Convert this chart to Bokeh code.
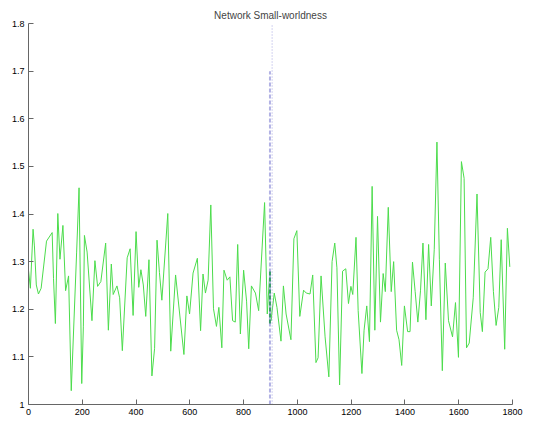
from bokeh.plotting import figure
from bokeh.models import FixedTicker, Range1d, Title
from bokeh.embed import file_html
from bokeh.resources import INLINE

x_vals = [0, 7, 17, 22, 29, 37, 47, 67, 88, 93, 100, 109, 117, 128, 138, 149, 159, 179, 188, 198,
          204, 208, 218, 236, 247, 257, 269, 287, 297, 308, 315, 329, 339, 349, 367, 378, 389, 400,
          410, 418, 427, 436, 448, 459, 469, 478, 487, 496, 518, 529, 547, 578, 589, 599, 612, 628,
          640, 649, 658, 668, 678, 688, 699, 708, 719, 727, 739, 749, 759, 769, 778, 788, 800, 811,
          819, 829, 844, 856, 878, 888, 897, 902, 914, 924, 939, 948, 958, 976, 987, 998, 1009,
          1023, 1033, 1047, 1057, 1069, 1077, 1088, 1103, 1117, 1129, 1139, 1147, 1157, 1168, 1180,
          1190, 1199, 1206, 1218, 1226, 1240, 1248, 1258, 1268, 1278, 1288, 1298, 1309, 1319, 1327,
          1338, 1349, 1358, 1369, 1378, 1388, 1398, 1410, 1419, 1428, 1438, 1448, 1458, 1467, 1478,
          1488, 1498, 1509, 1519, 1528, 1539, 1550, 1562, 1577, 1588, 1599, 1610, 1620, 1629, 1639,
          1654, 1668, 1680, 1688, 1698, 1709, 1719, 1729, 1739, 1749, 1758, 1771, 1781, 1790]
y_vals = [1.282, 1.244, 1.368, 1.333, 1.251, 1.232, 1.244, 1.343, 1.361, 1.265, 1.170, 1.401, 1.305,
          1.376, 1.239, 1.270, 1.029, 1.320, 1.455, 1.044, 1.163, 1.355, 1.320, 1.176, 1.302, 1.248,
          1.258, 1.339, 1.156, 1.295, 1.231, 1.249, 1.224, 1.113, 1.308, 1.327, 1.187, 1.363, 1.246,
          1.283, 1.251, 1.185, 1.304, 1.060, 1.118, 1.345, 1.277, 1.219, 1.401, 1.112, 1.272, 1.105,
          1.228, 1.190, 1.276, 1.307, 1.155, 1.274, 1.234, 1.261, 1.419, 1.201, 1.164, 1.204, 1.119,
          1.282, 1.261, 1.268, 1.176, 1.173, 1.336, 1.148, 1.282, 1.217, 1.117, 1.249, 1.234, 1.197,
          1.424, 1.190, 1.274, 1.176, 1.234, 1.204, 1.133, 1.249, 1.190, 1.136, 1.348, 1.365, 1.185,
          1.240, 1.234, 1.232, 1.272, 1.088, 1.098, 1.270, 1.142, 1.058, 1.300, 1.339, 1.287, 1.041,
          1.280, 1.285, 1.212, 1.248, 1.231, 1.351, 1.197, 1.065, 1.156, 1.207, 1.132, 1.458, 1.156,
          1.395, 1.173, 1.275, 1.237, 1.414, 1.237, 1.300, 1.156, 1.136, 1.082, 1.207, 1.153, 1.153,
          1.299, 1.237, 1.173, 1.240, 1.339, 1.178, 1.336, 1.207, 1.326, 1.551, 1.305, 1.071, 1.297,
          1.176, 1.142, 1.214, 1.099, 1.510, 1.475, 1.119, 1.129, 1.224, 1.442, 1.193, 1.153, 1.278,
          1.285, 1.351, 1.237, 1.166, 1.204, 1.346, 1.116, 1.370, 1.289]

x_ticks = [0, 200, 400, 600, 800, 1000, 1200, 1400, 1600, 1800]
y_ticks = [1.0, 1.1, 1.2, 1.3, 1.4, 1.5, 1.6, 1.7, 1.8]
y_tick_labels = ["1", "1.1", "1.2", "1.3", "1.4", "1.5", "1.6", "1.7", "1.8"]

marker_dotted_x = 906
marker_dashed_x = 898
marker_dashed_top = 1.7
marker_band = [1.17, 1.28]

p = figure(frame_width=484, frame_height=381, output_backend="svg", toolbar_location=None,
           x_range=Range1d(0, 1800), y_range=Range1d(1.0, 1.8),
           min_border_left=28, min_border_right=14, min_border_top=23, min_border_bottom=17)
p.title = Title(text="Network Small-worldness", align="center", text_font="Liberation Sans",
                text_font_size="10px", text_font_style="normal", standoff=6, offset=0)
p.outline_line_color = None
p.grid.visible = False
p.background_fill_color = "white"
p.border_fill_color = "white"

for ax in (p.xaxis[0], p.yaxis[0]):
    ax.axis_line_color = "#666666"
    ax.major_tick_line_color = "#666666"
    ax.major_tick_in = 5
    ax.major_tick_out = 0
    ax.minor_tick_line_color = None
    ax.major_label_text_font = "Liberation Sans"
    ax.major_label_text_font_size = "9px"
    ax.major_label_text_color = "black"
    ax.major_label_standoff = 4

p.xaxis[0].ticker = FixedTicker(ticks=x_ticks)
p.xaxis[0].major_label_overrides = {t: str(t) for t in x_ticks}
p.yaxis[0].ticker = FixedTicker(ticks=y_ticks)
p.yaxis[0].major_label_overrides = {t: l for t, l in zip(y_ticks, y_tick_labels)}

p.line(x_vals, y_vals, line_color="#4cdc4c", line_width=1)

p.segment(x0=[marker_dotted_x], y0=[1.0], x1=[marker_dotted_x], y1=[1.8],
          line_color="#a8a8e2", line_width=1, line_dash="1 2")
p.segment(x0=[marker_dashed_x], y0=[1.0], x1=[marker_dashed_x], y1=[marker_dashed_top],
          line_color="#b2b2e4", line_width=2, line_dash="4 2")
p.segment(x0=[marker_dashed_x], y0=[marker_band[0]], x1=[marker_dashed_x], y1=[marker_band[1]],
          line_color="#3a9a6a", line_width=2, line_dash="4 2")

open("out.html", "w").write(file_html(p, INLINE))
